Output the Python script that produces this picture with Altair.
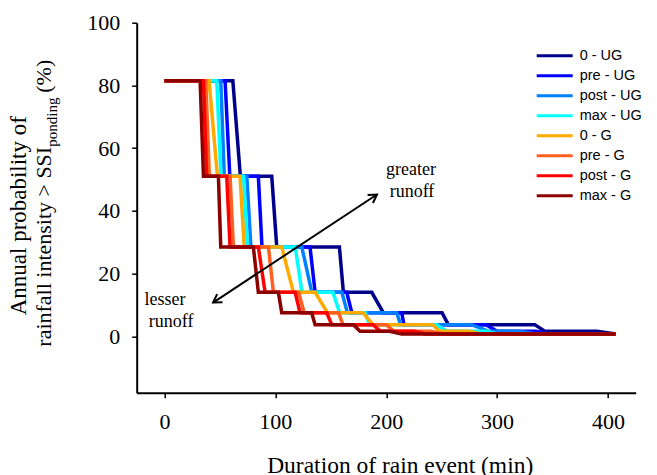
import altair as alt
import pandas as pd

# ---------------- data ----------------
SERIES = ["0 - UG", "pre - UG", "post - UG", "max - UG", "0 - G", "pre - G", "post - G", "max - G"]
COLORS = ["#00008B", "#0000FF", "#0080FF", "#00FFFF", "#FFAA00", "#FF5F1F", "#FF0000", "#8B0000"]

# probability levels (%) of the steps
LEVELS = [81.5, 51.0, 28.5, 14.0, 7.5, 3.7, 1.6, 0.7]

# duration (min) where each level starts / ends: [s0, e0, s1, e1, ... s7, e7]
UG_0    = [0, 61.7, 68.5, 96.8, 101.3, 157.8, 161.4, 187.0, 197.4, 250.4, 256.0, 334.0, 343.0, 390.0, 407.0, 407.0]
UG_PRE  = [0, 54.7, 59.0, 84.7, 88.0, 131.3, 135.9, 164.4, 169.0, 214.0, 216.0, 290.0, 300.0, 335.0, 348.0, 407.0]
UG_POST = [0, 50.8, 54.0, 74.3, 78.0, 123.9, 132.9, 160.0, 165.0, 209.5, 213.0, 277.0, 292.0, 320.0, 335.0, 407.0]
UG_MAX  = [0, 47.2, 51.0, 71.2, 75.0, 118.0, 124.0, 152.0, 158.0, 181.0, 185.0, 245.0, 255.0, 290.0, 300.0, 407.0]
G_0     = [0, 40.3, 47.8, 68.2, 72.0, 105.8, 116.3, 135.9, 147.0, 179.0, 188.0, 242.0, 248.0, 275.0, 285.0, 407.0]
G_PRE   = [0, 37.3, 40.5, 59.2, 62.2, 93.8, 98.3, 121.0, 126.0, 157.0, 161.0, 200.0, 207.0, 240.0, 252.0, 407.0]
G_POST  = [0, 35.2, 38.0, 56.2, 59.2, 84.7, 90.8, 117.9, 122.3, 146.4, 150.9, 188.0, 195.0, 225.0, 235.0, 407.0]
G_MAX   = [0, 32.2, 35.2, 48.7, 50.8, 80.2, 84.7, 102.8, 105.8, 132.8, 135.9, 170.4, 176.4, 203.0, 214.0, 407.0]

X_TICKS = [0, 100, 200, 300, 400]
Y_TICKS = [0, 20, 40, 60, 80, 100]

# annotation arrow end points (min, %) and labels
ARROW_X = [43.9, 191.7]
ARROW_Y = [10.75, 45.2]
ARROW_ANGLE = [146.6, 326.6]
NOTE_TEXT = ["greater", "runoff", "lesser", "runoff"]
NOTE_X = [222.4, 223.3, 0.6, 6.0]
NOTE_Y = [52.9, 46.1, 11.7, 4.4]

# ---------------- tables ----------------
rows = []
for name, xs in zip(SERIES, [UG_0, UG_PRE, UG_POST, UG_MAX, G_0, G_PRE, G_POST, G_MAX]):
    for k, lev in enumerate(LEVELS):
        rows.append({"series": name, "t": xs[2 * k], "p": lev, "i": 2 * k})
        rows.append({"series": name, "t": xs[2 * k + 1], "p": lev, "i": 2 * k + 1})
df = pd.DataFrame(rows)

arrow_df = pd.DataFrame({"t": ARROW_X, "p": ARROW_Y, "ang": ARROW_ANGLE})
note_df = pd.DataFrame({"t": NOTE_X, "p": NOTE_Y, "txt": NOTE_TEXT})
leg_df = pd.DataFrame({"series": SERIES})

SERIF = "Liberation Serif"
xscale = alt.Scale(domain=[-25, 425], nice=False, zero=False)
yscale = alt.Scale(domain=[-18, 100], nice=False, zero=False)
cscale = alt.Scale(domain=SERIES, range=COLORS)

lines = alt.Chart(df).mark_line(strokeWidth=3.5, strokeJoin="miter").encode(
    x=alt.X("t:Q", scale=xscale,
            axis=alt.Axis(values=X_TICKS, title="Duration of rain event (min)", grid=False,
                          labelPadding=14, titlePadding=21, labelFont=SERIF, labelFontSize=22,
                          titleFont=SERIF, titleFontSize=23.5, titleX=263, titleAlign="center")),
    y=alt.Y("p:Q", scale=yscale,
            axis=alt.Axis(values=Y_TICKS, title=None, grid=False, labelPadding=12,
                          labelFont=SERIF, labelFontSize=22)),
    color=alt.Color("series:N", scale=cscale, legend=None),
    order=alt.Order("i:Q"),
)

arrow_line = alt.Chart(arrow_df).mark_line(color="black", strokeWidth=2).encode(
    x=alt.X("t:Q", scale=xscale), y=alt.Y("p:Q", scale=yscale)
)
arrow_heads = alt.Chart(arrow_df).mark_point(
    shape="M -1 -0.6 L 0 0 L -1 0.6", filled=False, stroke="black", strokeWidth=2, size=260, opacity=1
).encode(
    x=alt.X("t:Q", scale=xscale), y=alt.Y("p:Q", scale=yscale),
    angle=alt.Angle("ang:Q", scale=None),
)
notes = alt.Chart(note_df).mark_text(font=SERIF, fontSize=18, color="black", baseline="middle").encode(
    x=alt.X("t:Q", scale=xscale), y=alt.Y("p:Q", scale=yscale), text="txt:N"
)

plot = alt.layer(lines, arrow_line, arrow_heads, notes)

leg_y = alt.Y("series:N", sort=SERIES, scale=alt.Scale(type="point", range=[33, 173], padding=0), axis=None)
leg_rules = alt.Chart(leg_df).mark_rule(strokeWidth=3).encode(
    x=alt.value(400), x2=alt.value(436), y=leg_y,
    color=alt.Color("series:N", scale=cscale, legend=None),
)
leg_text = alt.Chart(leg_df).mark_text(align="left", baseline="middle", font="Liberation Sans",
                                       fontSize=14.5, color="black").encode(
    x=alt.value(443), y=leg_y, text="series:N"
)

def ytitle(txt, x, y, size, align):
    return alt.Chart(pd.DataFrame({"s": [txt]})).mark_text(
        angle=270, font=SERIF, fontSize=size, color="black", align=align, baseline="alphabetic"
    ).encode(x=alt.value(x), y=alt.value(y), text="s:N")

yt1 = ytitle("Annual probability of", -111, 193, 23, "center")
yt2 = ytitle("rainfall intensity > SSI", -86, 324, 22, "left")
yt3 = ytitle("ponding", -80, 124, 15, "left")
yt4 = ytitle("(%)", -86, 70, 22, "left")

chart = alt.layer(plot, leg_rules, leg_text, yt1, yt2, yt3, yt4).resolve_scale(
    y="independent"
).properties(
    width=499, height=370,
    autosize=alt.AutoSizeParams(type="none"),
    padding={"left": 128.7, "top": 14.7, "right": 12, "bottom": 90},
).configure_view(stroke=None).configure_axis(
    domainColor="black", domainWidth=2, tickColor="black", tickWidth=1.5, tickSize=5,
    labelFont=SERIF, labelFontSize=22, labelColor="black",
    titleFont=SERIF, titleFontSize=23.5, titleFontWeight="normal", titleColor="black",
)

chart.save("out.html", embed_options={"renderer": "svg", "actions": False})
